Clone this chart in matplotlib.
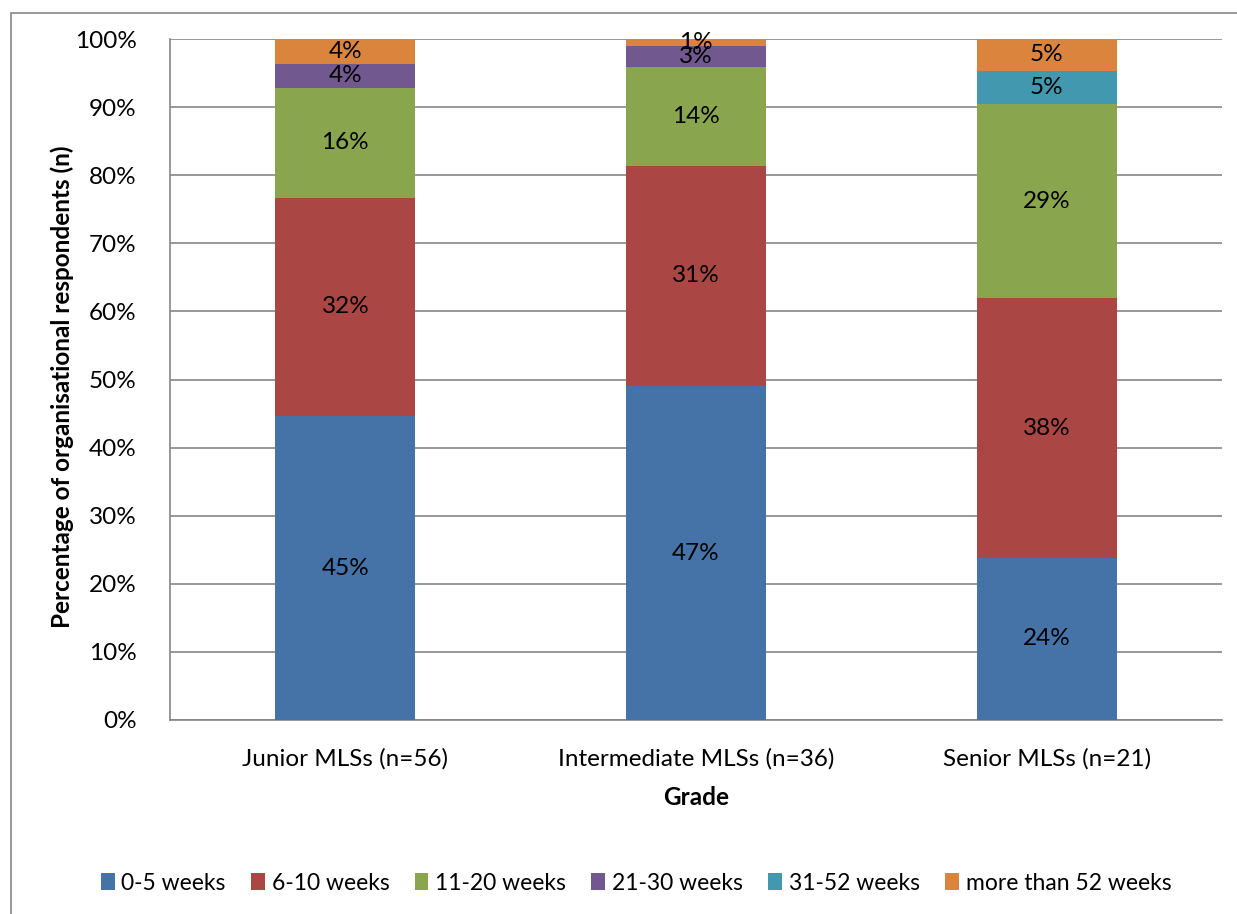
import matplotlib.pyplot as plt
import numpy as np
from matplotlib.patches import Rectangle

# stacked share of respondents per grade
grades = ["Junior MLSs (n=56)", "Intermediate MLSs (n=36)", "Senior MLSs (n=21)"]
bands = ["0-5 weeks", "6-10 weeks", "11-20 weeks", "21-30 weeks", "31-52 weeks", "more than 52 weeks"]
colors = ["#4572A7", "#AA4643", "#89A54E", "#71588F", "#4198AF", "#DB843D"]

# values per band, one entry per grade
wk_0_5 = [44.6, 49.0, 23.8]
wk_6_10 = [32.1, 32.4, 38.1]
wk_11_20 = [16.1, 14.5, 28.6]
wk_21_30 = [3.6, 3.1, 0.0]
wk_31_52 = [0.0, 0.0, 4.8]
wk_52_plus = [3.6, 1.0, 4.8]

# data labels as printed on the chart
lab_0_5 = ["45%", "47%", "24%"]
lab_6_10 = ["32%", "31%", "38%"]
lab_11_20 = ["16%", "14%", "29%"]
lab_21_30 = ["4%", "3%", ""]
lab_31_52 = ["", "", "5%"]
lab_52_plus = ["4%", "1%", "5%"]

series = [wk_0_5, wk_6_10, wk_11_20, wk_21_30, wk_31_52, wk_52_plus]
labels = [lab_0_5, lab_6_10, lab_11_20, lab_21_30, lab_31_52, lab_52_plus]

plt.rcParams['font.family'] = ['Lato', 'DejaVu Sans']

fig = plt.figure(figsize=(12.37, 9.14), dpi=100)
ax = fig.add_axes([170/1237, 1 - 720/914, (1222-170)/1237, (720-39)/914])

# outer chart frame
fig.patches.append(Rectangle((11/1237, -0.05), 1.2, 1 - 13/914 + 0.05,
                             transform=fig.transFigure, fill=False,
                             edgecolor="#868686", linewidth=1.2, zorder=0))

x = np.arange(len(grades))
bottom = np.zeros(len(grades))
for name, vals, col, labs in zip(bands, series, colors, labels):
    vals = np.array(vals)
    ax.bar(x, vals, 0.4, bottom=bottom, color=col, label=name, zorder=3)
    for xi, b, v, t in zip(x, bottom, vals, labs):
        if t:
            ax.text(xi, b + v / 2, t, ha="center", va="center", fontsize=17.5, zorder=4)
    bottom += vals

ax.set_xlim(-0.5, 2.5)
ax.set_ylim(0, 100)
ax.set_yticks(np.arange(0, 101, 10))
ax.set_yticklabels([f"{v}%" for v in range(0, 101, 10)])
ax.set_xticks(x)
ax.set_xticklabels(grades)
ax.tick_params(axis="both", length=0, labelsize=17.5)
ax.tick_params(axis="y", pad=24)
ax.tick_params(axis="x", pad=20)
ax.grid(axis="y", color="#868686", linewidth=1.2, zorder=0)

for s in ["top", "right"]:
    ax.spines[s].set_visible(False)
ax.spines["left"].set_color("#868686")
ax.spines["bottom"].set_color("#868686")
ax.spines["left"].set_linewidth(1.2)
ax.spines["bottom"].set_linewidth(1.2)

ax.set_xlabel("Grade", fontsize=17.5, fontweight="bold", labelpad=12)
ax.set_ylabel("Percentage of organisational respondents (n)", fontsize=17.5,
              fontweight="bold")
ax.yaxis.set_label_coords(-0.091, 0.49)

fig.legend(loc="center", bbox_to_anchor=(636/1237, 1 - 883/914), ncol=6,
           frameon=False, fontsize=16.5, handlelength=0.6, handleheight=0.7,
           handletextpad=0.3, columnspacing=1.1)

fig.savefig("out.png", dpi=100)
